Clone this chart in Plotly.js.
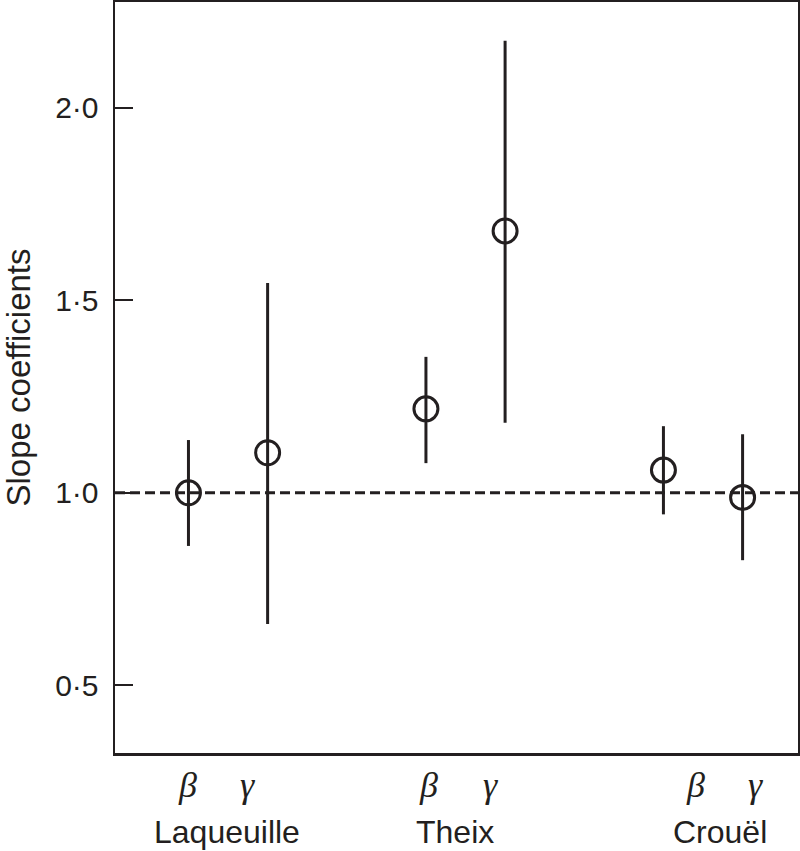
<!DOCTYPE html>
<html>
<head>
<meta charset="utf-8">
<script src="https://cdn.plot.ly/plotly-3.0.1.min.js"></script>
<style>
  html, body { margin: 0; padding: 0; background: #fff; }
  #chart { width: 800px; height: 851px; }
</style>
</head>
<body>
<div id="chart"></div>
<script>
// ---- data ----
const sites = ["Laqueuille", "Theix", "Crouël"];
const params = ["β", "γ", "β", "γ", "β", "γ"];
const xPos = [1, 2, 4, 5, 7, 8];
const estimate = [1.00, 1.104, 1.218, 1.680, 1.059, 0.988];
const upper    = [1.137, 1.545, 1.353, 2.174, 1.173, 1.152];
const lower    = [0.862, 0.659, 1.077, 1.182, 0.944, 0.825];
const yTickVals = [0.5, 1.0, 1.5, 2.0];
const yTickText = ["0·5", "1·0", "1·5", "2·0"];
const refValue = 1.0;

// label placement (layout only)
const paramLabelX = [0.994, 1.752, 4.026, 4.81, 7.41, 8.16];
const siteLabelX = [1.487, 4.368, 7.715];

const ink = "#231f20";

const trace = {
  x: xPos,
  y: estimate,
  type: "scatter",
  mode: "markers",
  marker: { symbol: "circle-open", size: 24, color: ink, line: { width: 3, color: ink } },
  error_y: {
    type: "data",
    symmetric: false,
    array: upper.map((u, i) => u - estimate[i]),
    arrayminus: lower.map((l, i) => estimate[i] - l),
    width: 0,
    thickness: 3,
    color: ink
  },
  showlegend: false,
  hoverinfo: "skip"
};

const annotations = [];
params.forEach((p, i) => {
  annotations.push({
    x: paramLabelX[i], xref: "x", y: -0.043, yref: "paper",
    text: p, showarrow: false, xanchor: "center", yanchor: "middle",
    font: { family: "Liberation Serif, Times New Roman, serif", size: 36, color: ink, style: "italic" }
  });
});
sites.forEach((s, i) => {
  annotations.push({
    x: siteLabelX[i], xref: "x", y: -0.105, yref: "paper",
    text: s, showarrow: false, xanchor: "center", yanchor: "middle",
    font: { family: "Liberation Sans, Arial, sans-serif", size: 32, color: ink }
  });
});

const layout = {
  width: 800, height: 851,
  margin: { l: 115, r: 2, t: 2, b: 98, pad: 0 },
  paper_bgcolor: "#fff",
  plot_bgcolor: "#fff",
  font: { family: "Liberation Sans, Arial, sans-serif", color: ink, size: 30 },
  xaxis: {
    range: [0.072, 8.70],
    showgrid: false, zeroline: false,
    showticklabels: false, ticks: "",
    showline: true, linecolor: ink, linewidth: 2.5, mirror: true
  },
  yaxis: {
    range: [0.3243, 2.2745],
    showgrid: false, zeroline: false,
    tickvals: yTickVals, ticktext: yTickText,
    ticks: "inside", ticklen: 18, tickwidth: 2, tickcolor: ink,
    ticklabelstandoff: 8,
    tickfont: { size: 30, color: ink },
    showline: true, linecolor: ink, linewidth: 2.5, mirror: true,
    title: { text: "Slope coefficients", font: { size: 33, color: ink }, standoff: 18 }
  },
  shapes: [{
    type: "line", xref: "paper", x0: 0, x1: 1, yref: "y", y0: refValue, y1: refValue,
    line: { color: ink, width: 3, dash: "10px,5px" }, layer: "below"
  }],
  annotations: annotations
};

Plotly.newPlot("chart", [trace], layout, { displayModeBar: false, staticPlot: true });
</script>
</body>
</html>
